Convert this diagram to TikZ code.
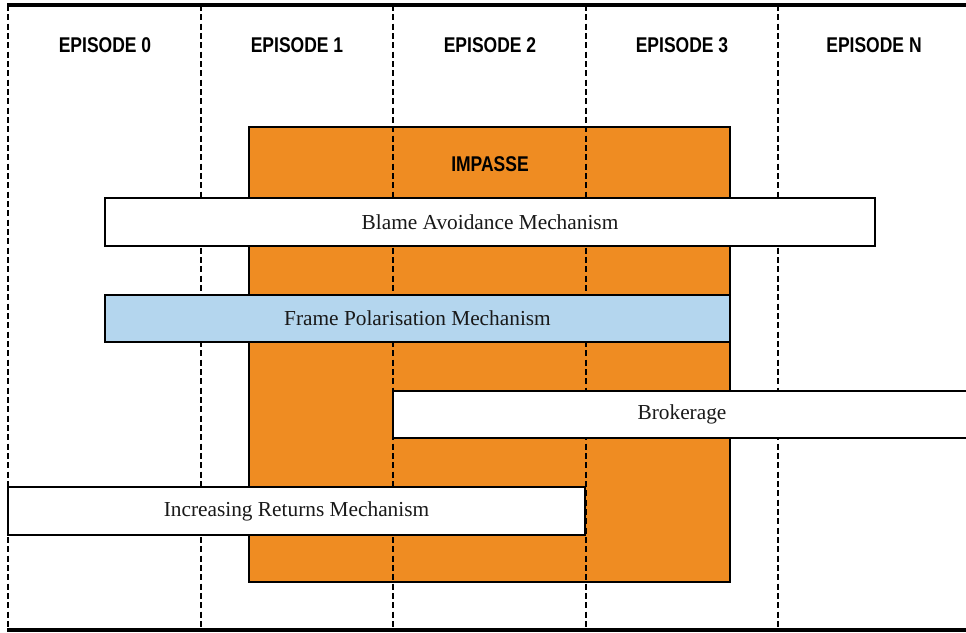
\documentclass[tikz,border=0pt]{standalone}
\usepackage{fontspec}
\setmainfont{Liberation Serif}
\newfontfamily\hdfont{Liberation Sans}
\definecolor{impasse}{HTML}{EF8C22}
\definecolor{frameblue}{HTML}{B4D6EE}
\tikzset{
  sep/.style={line width=2pt, dash pattern=on 4.5pt off 2.5pt},
  rule/.style={line width=3pt},
  hdr/.style={font=\hdfont\bfseries\fontsize{16}{18}\selectfont, inner sep=0pt},
  bar/.style={draw=black, line width=1.8pt},
  bartext/.style={font=\fontsize{16}{19}\selectfont, text=black!90, inner sep=0pt}
}
\newcommand{\hd}[1]{\scalebox{0.82}[1]{#1}}
\begin{document}
\begin{tikzpicture}[x=0.75pt,y=-0.75pt]
\useasboundingbox (0,0) rectangle (966,632);
% impasse block
\path[fill=impasse, draw=black, line width=1.8pt] (249,127) rectangle (730,582);
% separators
\coordinate (s0t) at (8,5);   \coordinate (s0b) at (8,630);
\coordinate (s1t) at (201,5); \coordinate (s1b) at (201,630);
\coordinate (s2t) at (393,5); \coordinate (s2b) at (393,630);
\coordinate (s3t) at (586,5); \coordinate (s3b) at (586,630);
\coordinate (s4t) at (778,5); \coordinate (s4b) at (778,630);
\foreach \i in {0,...,4} { \draw[sep] (s\i t) -- (s\i b); }
\draw[rule] (7,5) -- (966,5);
\draw[rule] (7,630) -- (966,630);
% headers
\node[hdr] (h0) at (105,45) {\hd{EPISODE 0}};
\node[hdr] (h1) at (297,45) {\hd{EPISODE 1}};
\node[hdr] (h2) at (490,45) {\hd{EPISODE 2}};
\node[hdr] (h3) at (682,45) {\hd{EPISODE 3}};
\node[hdr] (hn) at (874,45) {\hd{EPISODE N}};
\node[hdr] (imp) at (490,164) {\hd{IMPASSE}};
% bars
\path[bar, fill=white] (105,198) rectangle (875,246);
\node[bartext] (blame) at (490,222) {Blame Avoidance Mechanism};
\path[bar, fill=frameblue] (105,295) rectangle (730,342);
\node[bartext] (frame) at (417.5,318.5) {Frame Polarisation Mechanism};
\fill[white] (393,391) rectangle (966,438);
\draw[bar] (966,391) -- (393,391) -- (393,438) -- (966,438);
\node[bartext] (brok) at (682,414.5) {Brokerage};
\path[bar, fill=white] (8,487) rectangle (585,535);
\node[bartext] (incr) at (296.5,511) {Increasing Returns Mechanism};
\end{tikzpicture}
\end{document}
